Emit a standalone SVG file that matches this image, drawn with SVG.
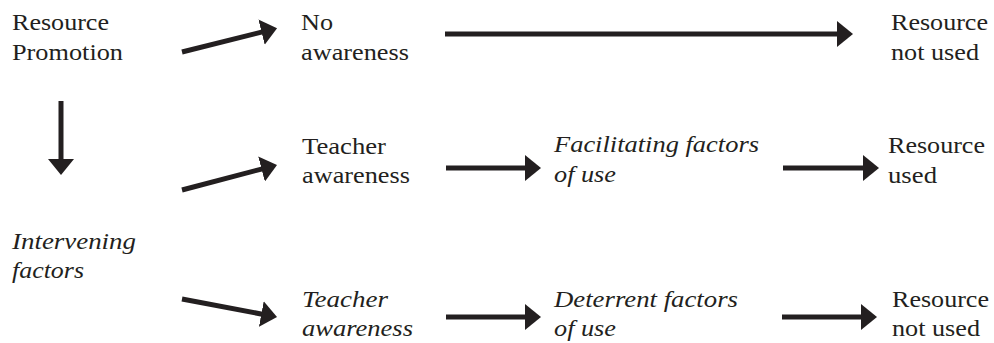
<svg xmlns="http://www.w3.org/2000/svg" width="994" height="343" viewBox="0 0 994 343">
<style>
text{font-family:'Liberation Serif','Times New Roman',Times,serif;font-size:22.5px;fill:#231f20}
.i{font-style:italic}
.c{stroke:#231f20;stroke-width:5;fill:none;marker-end:url(#ah)}
</style>
<defs>
<marker id="ah" markerUnits="userSpaceOnUse" markerWidth="16" markerHeight="26" viewBox="0 0 16 26" refX="1" refY="13" orient="auto">
<path d="M0,0 L16,13 L0,26 z" fill="#231f20"/>
</marker>
</defs>
<rect width="994" height="343" fill="#fff"/>
<g id="promotion"><text x="12" y="30" textLength="97" lengthAdjust="spacingAndGlyphs">Resource</text><text x="12" y="60" textLength="111" lengthAdjust="spacingAndGlyphs">Promotion</text></g>
<g id="no-awareness"><text x="301" y="30" textLength="32" lengthAdjust="spacingAndGlyphs">No</text><text x="301" y="60" textLength="108" lengthAdjust="spacingAndGlyphs">awareness</text></g>
<g id="not-used-1"><text x="891" y="30" textLength="97" lengthAdjust="spacingAndGlyphs">Resource</text><text x="891" y="60" textLength="88" lengthAdjust="spacingAndGlyphs">not used</text></g>
<g id="intervening"><text class="i" x="12" y="249" textLength="124" lengthAdjust="spacingAndGlyphs">Intervening</text><text class="i" x="12" y="278" textLength="72" lengthAdjust="spacingAndGlyphs">factors</text></g>
<g id="teacher-awareness"><text x="302" y="154" textLength="84" lengthAdjust="spacingAndGlyphs">Teacher</text><text x="302" y="183" textLength="108" lengthAdjust="spacingAndGlyphs">awareness</text></g>
<g id="facilitating"><text class="i" x="554" y="152" textLength="205" lengthAdjust="spacingAndGlyphs">Facilitating factors</text><text class="i" x="554" y="182" textLength="62" lengthAdjust="spacingAndGlyphs">of use</text></g>
<g id="used"><text x="888" y="153" textLength="97" lengthAdjust="spacingAndGlyphs">Resource</text><text x="888" y="183" textLength="49" lengthAdjust="spacingAndGlyphs">used</text></g>
<g id="teacher-awareness-2"><text class="i" x="302" y="307" textLength="86" lengthAdjust="spacingAndGlyphs">Teacher</text><text class="i" x="302" y="336" textLength="111" lengthAdjust="spacingAndGlyphs">awareness</text></g>
<g id="deterrent"><text class="i" x="554" y="307" textLength="184" lengthAdjust="spacingAndGlyphs">Deterrent factors</text><text class="i" x="554" y="336" textLength="62" lengthAdjust="spacingAndGlyphs">of use</text></g>
<g id="not-used-2"><text x="892" y="307" textLength="97" lengthAdjust="spacingAndGlyphs">Resource</text><text x="892" y="336" textLength="88" lengthAdjust="spacingAndGlyphs">not used</text></g>
<g id="connectors">
<line class="c" x1="182" y1="52" x2="262.5" y2="31.9"/>
<line class="c" x1="445" y1="34" x2="838" y2="34"/>
<line class="c" x1="61" y1="101" x2="61" y2="160"/>
<line class="c" x1="182" y1="190" x2="262.5" y2="168.8"/>
<line class="c" x1="446" y1="168" x2="526" y2="168"/>
<line class="c" x1="783" y1="168" x2="864" y2="168"/>
<line class="c" x1="182" y1="299" x2="262.3" y2="314.2"/>
<line class="c" x1="446" y1="317" x2="526" y2="317"/>
<line class="c" x1="782" y1="317" x2="862" y2="317"/>
</g>
</svg>
